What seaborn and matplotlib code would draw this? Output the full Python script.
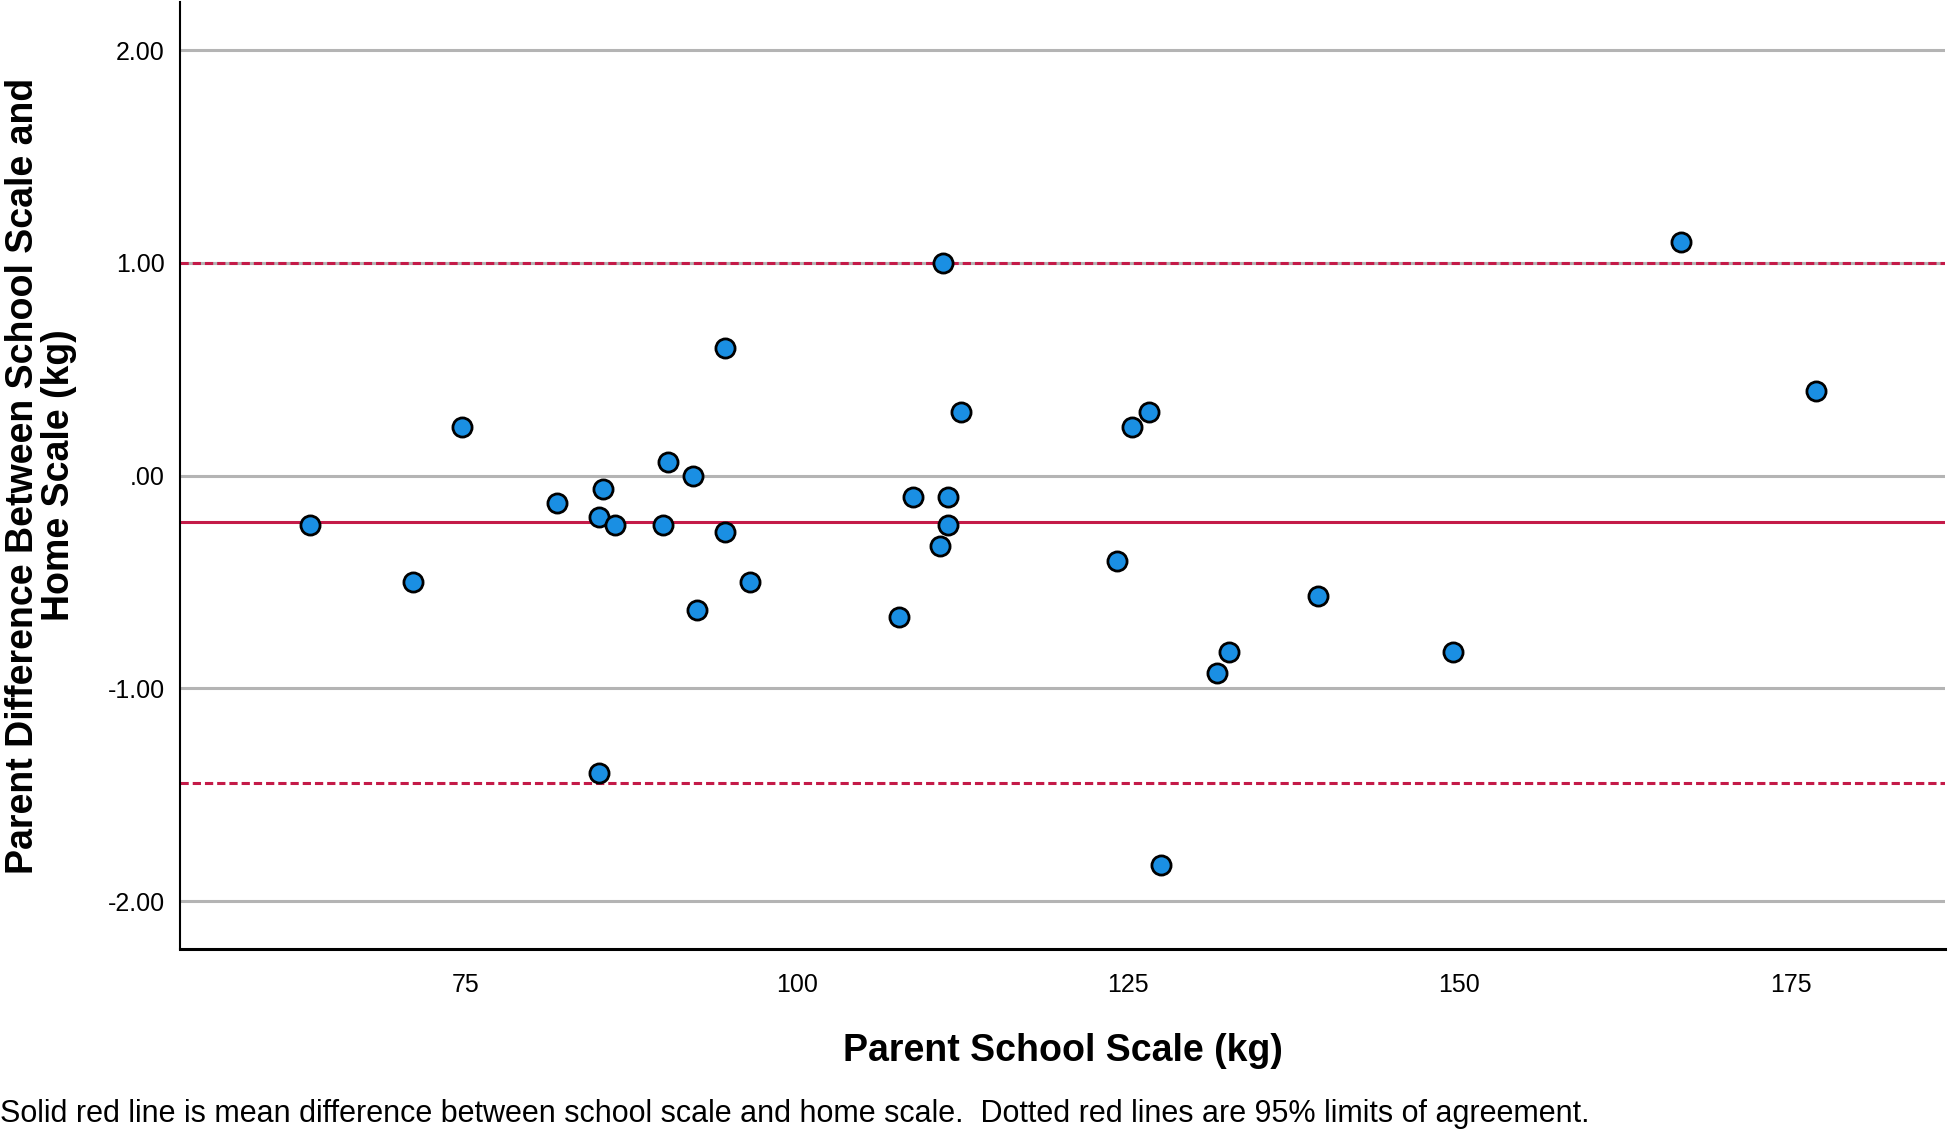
import numpy as np
import pandas as pd
import matplotlib
matplotlib.use("Agg")
import matplotlib.pyplot as plt
import seaborn as sns

# values
school_scale = [63.3, 71.0, 74.7, 81.9, 85.1, 85.4, 86.3, 85.1, 89.9, 90.3,
                92.2, 92.5, 94.6, 94.6, 96.5, 107.7, 108.8, 110.8, 111.0, 111.4,
                111.4, 112.4, 124.2, 125.3, 126.6, 127.5, 131.7, 132.6, 139.3, 149.5,
                166.7, 176.9]
difference = [-0.23, -0.50, 0.23, -0.13, -0.195, -0.065, -0.23, -1.40, -0.23, 0.062,
              0.0, -0.63, 0.60, -0.265, -0.50, -0.665, -0.10, -0.33, 1.00, -0.10,
              -0.23, 0.30, -0.40, 0.23, 0.30, -1.83, -0.93, -0.83, -0.565, -0.83,
              1.10, 0.40]
mean_diff = -0.22
upper_loa = 1.0
lower_loa = -1.446

y_ticks = [2, 1, 0, -1, -2]
y_tick_labels = ["2.00", "1.00", ".00", "-1.00", "-2.00"]
x_ticks = [75, 100, 125, 150, 175]

df = pd.DataFrame({"school": school_scale, "diff": difference})

sns.set_style("white")
plt.rcParams["font.family"] = ["Liberation Sans", "DejaVu Sans"]
plt.rcParams["text.color"] = "black"
plt.rcParams["axes.labelcolor"] = "black"
plt.rcParams["xtick.color"] = "black"
plt.rcParams["ytick.color"] = "black"

fig = plt.figure(figsize=(19.52, 11.32), dpi=100)
ax = fig.add_axes([0.0922, 0.1617, 0.9042, 0.8363])

red = "#c41a48"
for yv in y_ticks:
    ax.axhline(yv, color="#b4b4b4", linewidth=2.2, zorder=1)
ax.axhline(mean_diff, color=red, linewidth=2.2, zorder=2)
ax.axhline(upper_loa, color=red, linewidth=2.2, linestyle=(0, (2.7, 1.3)), zorder=2)
ax.axhline(lower_loa, color=red, linewidth=2.2, linestyle=(0, (2.7, 1.3)), zorder=2)

sns.scatterplot(data=df, x="school", y="diff", ax=ax, s=190, color="#1a8fe3",
                edgecolor="black", linewidth=2.0, zorder=3, legend=False)

ax.set_xlim(53.45, 186.65)
ax.set_ylim(-2.225, 2.225)
ax.set_yticks(y_ticks)
ax.set_yticklabels(y_tick_labels)
ax.set_xticks(x_ticks)
ax.tick_params(axis="y", length=0, pad=11, labelsize=18)
ax.tick_params(axis="x", length=0, pad=17, labelsize=18)

for side in ["top", "right"]:
    ax.spines[side].set_visible(False)
ax.spines["left"].set_color("black")
ax.spines["left"].set_linewidth(1.5)
ax.spines["bottom"].set_color("black")
ax.spines["bottom"].set_linewidth(2.2)

ax.set_xlabel("Parent School Scale (kg)", fontsize=27, fontweight="bold", labelpad=26)
ax.set_ylabel("Parent Difference Between School Scale and\nHome Scale (kg)",
              fontsize=27, fontweight="bold", labelpad=22, linespacing=1.0)

fig.text(0.0, 0.009, "Solid red line is mean difference between school scale and home scale.  "
         "Dotted red lines are 95% limits of agreement.", fontsize=22, ha="left", va="baseline")

fig.savefig("out.png", dpi=100)
